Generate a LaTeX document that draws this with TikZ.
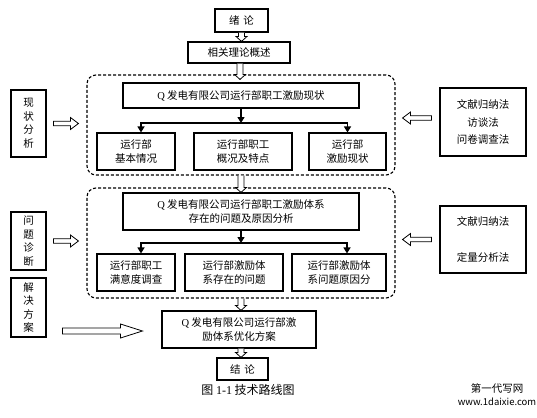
\documentclass[tikz,border=0pt]{standalone}
\usepackage{fontspec}
\setmainfont{Noto Sans CJK SC}
\newfontfamily\lat{Liberation Serif}
\usetikzlibrary{arrows.meta,calc}
\newcommand\hdn[2]{\draw[hol] let \p1=(#1), \p2=(#2) in (\x1-3pt,\y1) -- (\x1-3pt,\y2+5pt) -- (\x1-5.5pt,\y2+5pt) -- (\x1,\y2) -- (\x1+5.5pt,\y2+5pt) -- (\x1+3pt,\y2+5pt) -- (\x1+3pt,\y1);}
\newcommand\hrt[5]{\draw[hol] let \p1=(#1), \p2=(#2) in (\x1,\y1+#3) -- (\x2-#5,\y1+#3) -- (\x2-#5,\y1+#4) -- (\x2,\y1) -- (\x2-#5,\y1-#4) -- (\x2-#5,\y1-#3) -- (\x1,\y1-#3) -- cycle;}
\newcommand\hlt[5]{\draw[hol] let \p1=(#1), \p2=(#2) in (\x1,\y1+#3) -- (\x2+#5,\y1+#3) -- (\x2+#5,\y1+#4) -- (\x2,\y1) -- (\x2+#5,\y1-#4) -- (\x2+#5,\y1-#3) -- (\x1,\y1-#3) -- cycle;}
\begin{document}
\begin{tikzpicture}[x=1pt,y=-1pt,
 box/.style={draw, line width=1.1pt, inner sep=0pt, align=center, font=\fontsize{10.5}{13.5}\selectfont},
 dbox/.style={draw, dash pattern=on 3pt off 2pt, line width=1.1pt, rounded corners=9pt, inner sep=0pt},
 conn/.style={line width=1.3pt, -{Triangle[length=6pt,width=7pt]}},
 hol/.style={line width=0.8pt, fill=white}]
\fill[white] (0,0) rectangle (537,417);
\useasboundingbox (0,0) rectangle (537,417);
% dashed groups
\node[dbox, minimum width=308pt, minimum height=100pt] (dash1) at (241,125) {};
\node[dbox, minimum width=308pt, minimum height=110pt] (dash2) at (241,243) {};
% main column
\node[box, minimum width=53pt, minimum height=23pt] (intro) at (241.5,20.5) {绪\hspace{4pt}论};
\node[box, minimum width=102pt, minimum height=21pt] (rel) at (239,52.5) {相关理论概述};
\node[box, minimum width=236pt, minimum height=25pt] (t1) at (241,95.5) {{\lat Q} 发电有限公司运行部职工激励现状};
\node[box, minimum width=78pt, minimum height=37pt] (a1) at (136,151.5) {运行部\\基本情况};
\node[box, minimum width=98pt, minimum height=37pt] (b1) at (243,151.5) {运行部职工\\概况及特点};
\node[box, minimum width=77pt, minimum height=37pt] (c1) at (347.5,151.5) {运行部\\激励现状};
\node[box, minimum width=236pt, minimum height=37pt] (t2) at (241,211.5) {{\lat Q} 发电有限公司运行部职工激励体系\\存在的问题及原因分析};
\node[box, minimum width=78pt, minimum height=37pt] (a2) at (136,272.5) {运行部职工\\满意度调查};
\node[box, minimum width=98pt, minimum height=37pt] (b2) at (234,272.5) {运行部激励体\\系存在的问题};
\node[box, minimum width=94pt, minimum height=37pt] (c2) at (339,272.5) {运行部激励体\\系问题原因分};
\node[box, minimum width=154pt, minimum height=37pt] (opt) at (239,329.5) {{\lat Q} 发电有限公司运行部激\\励体系优化方案};
\node[box, minimum width=51pt, minimum height=22pt] (concl) at (242.5,369) {结\hspace{4pt}论};
\node[font=\fontsize{12}{14}\selectfont] (cap) at (248,390) {图 {\lat 1-1} 技术路线图};
% side boxes
\node[box, minimum width=35pt, minimum height=67pt] (L1) at (28.5,123.5) {现\\状\\分\\析};
\node[box, minimum width=35pt, minimum height=58pt] (L2) at (28.5,241) {问\\题\\诊\\断};
\node[box, minimum width=35pt, minimum height=59pt] (L3) at (28.5,307.5) {解\\决\\方\\案};
\node[box, minimum width=86pt, minimum height=68pt, font=\fontsize{10.5}{17.5}\selectfont] (R1) at (483,122) {文献归纳法\\访谈法\\问卷调查法};
\node[box, minimum width=86pt, minimum height=67pt] (R2) at (483,239.5) {文献归纳法\\[22pt]定量分析法};
% tree connectors
\coordinate (j1) at (241,123);
\coordinate (j2) at (241,243);
\draw[conn] (t1.south) -- (j1);
\draw[conn] (j1) -| ([xshift=5pt]a1.north);
\draw[conn] (j1) -| (c1.north);
\draw[conn] (t2.south) -- (j2);
\draw[conn] (j2) -| ([xshift=5pt]a2.north);
\draw[conn] (j2) -| ([xshift=8pt]c2.north);
% hollow arrows
\hdn{intro.south}{rel.north}
\hdn{[xshift=1pt]rel.south}{[yshift=3pt]t1.north}
\hdn{dash1.south}{t2.north}
\hdn{dash2.south}{opt.north}
\hdn{[xshift=2pt]opt.south}{concl.north}
\hrt{[xshift=7pt]L1.east}{[xshift=-8pt]dash1.west}{2.2pt}{6pt}{8pt}
\hrt{[xshift=7pt]L2.east}{[xshift=-8pt]dash2.west}{2.2pt}{6pt}{8pt}
\hrt{[xshift=16pt,yshift=-23.5pt]L3.east}{[xshift=-19pt]opt.west}{3pt}{7pt}{22pt}
\hlt{[xshift=-8pt,yshift=4pt]R1.west}{[xshift=7pt]dash1.east}{2.2pt}{6pt}{8pt}
\hlt{[xshift=-8pt]R2.west}{[xshift=7pt]dash2.east}{2.2pt}{6pt}{8pt}
% watermark
\node[font=\fontsize{10.5}{12}\selectfont] (wm1) at (497,388) {第一代写网};
\node[font=\fontsize{9.5}{11}\selectfont] (wm2) at (497,402) {www.1daixie.com};
\end{tikzpicture}
\end{document}
